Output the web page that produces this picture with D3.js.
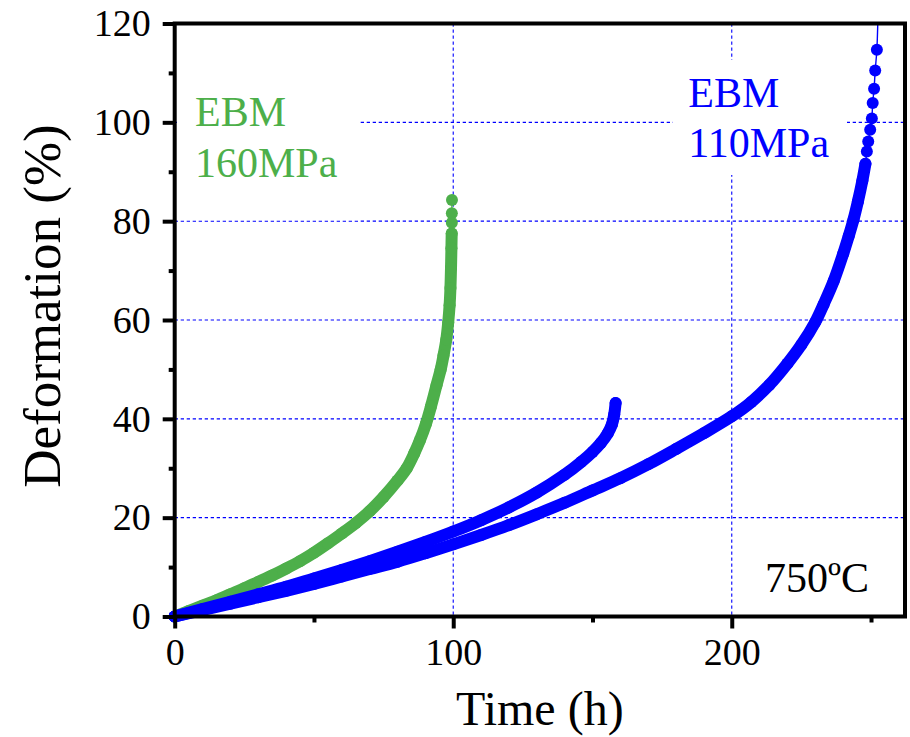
<!DOCTYPE html>
<html>
<head>
<meta charset="utf-8">
<script src="https://cdn.jsdelivr.net/npm/d3@7"></script>
<style>
  html, body { margin: 0; padding: 0; background: #fff; }
  svg { display: block; font-family: "Liberation Serif", "Times New Roman", serif; }
</style>
</head>
<body>
<svg id="chart" width="910" height="737"></svg>
<script>
// Creep curves of EBM material at 750 ºC: time (h) vs deformation (%)

// EBM 160 MPa – densely sampled part of the record
const ebm160Time = [0, 5, 10, 15, 20, 25, 30, 35, 40, 45, 50, 55, 60, 65, 70, 75, 80, 83.3,
  86, 88, 90.2, 92, 94, 95.5, 96.5, 97.5, 98.2, 98.7, 99.0, 99.2, 99.35, 99.45];
const ebm160Def = [0, 1.1, 2.2, 3.3, 4.5, 5.7, 7.0, 8.3, 9.7, 11.2, 12.9, 14.8, 16.8, 18.9, 21.3, 24.2, 27.5, 30.0,
  33.0, 35.6, 39.0, 42.5, 46.8, 50.0, 52.8, 56.0, 59.5, 63.0, 66.5, 70.5, 74.5, 77.5];
// last readings before rupture
const ebm160TailTime = [99.5, 99.5, 99.55];
const ebm160TailDef = [79.7, 81.6, 84.3];

// EBM 110 MPa – first specimen
const ebm110aTime = [0, 10, 20, 30, 40, 50, 60, 70, 80, 90, 100, 110, 120, 130, 140, 146, 150, 153,
  155.5, 157, 157.8, 158.3];
const ebm110aDef = [0, 1.5, 3.0, 4.5, 6.0, 7.7, 9.4, 11.2, 13.1, 15.1, 17.2, 19.5, 22.1, 25.1, 28.7, 31.3, 33.3, 35.1,
  37.1, 38.9, 40.9, 43.2];

// EBM 110 MPa – second specimen
const ebm110bTime = [0, 10, 20, 30, 40, 50, 60, 70, 80, 90, 100, 110, 120, 130, 140, 150, 160, 170, 180, 190,
  200, 207, 213.4, 220, 225, 230, 233, 236.6, 240, 242, 243.7, 245.3, 246.9, 248];
const ebm110bDef = [0, 1.3, 2.6, 3.9, 5.2, 6.6, 8.1, 9.6, 11.1, 12.8, 14.6, 16.5, 18.5, 20.7, 23.0, 25.5, 28.0, 30.8, 33.9, 37.1,
  40.5, 43.4, 46.8, 51.2, 55.0, 59.6, 63.2, 67.9, 73.4, 77.0, 80.3, 84.0, 88.2, 91.6];
const ebm110bTailTime = [248.5, 249.0, 249.7, 250.3, 250.6, 251.1, 251.5, 252.1, 252.7];
const ebm110bTailDef = [94.1, 96.1, 98.5, 100.8, 103.9, 106.8, 110.5, 114.7, 127];

// axes
const xTicks = [0, 100, 200];
const xMinorTicks = [50, 150, 250];
const yTicks = [0, 20, 40, 60, 80, 100, 120];
const yMinorTicks = [10, 30, 50, 70, 90, 110];
const xGrid = [100, 200];
const yGrid = [20, 40, 60, 80, 100];

const GREEN = "#4daf4a";
const BLUE = "#0000ff";

const svg = d3.select("#chart");
const W = 910, H = 737;
const margin = { top: 23.5, right: 5, bottom: 120.5, left: 174.7 };
const iw = W - margin.left - margin.right;
const ih = H - margin.top - margin.bottom;

const x = d3.scaleLinear().domain([0, 262.2]).range([0, iw]);
const y = d3.scaleLinear().domain([0, 120]).range([ih, 0]);

const g = svg.append("g").attr("transform", `translate(${margin.left},${margin.top})`);

// clip: lets markers at the origin show past the axes but cuts the line at the top frame
svg.append("defs").append("clipPath").attr("id", "plotClip")
  .append("rect").attr("x", -12).attr("y", 0).attr("width", iw + 12).attr("height", ih + 12);

// grid
const grid = g.append("g").attr("stroke", BLUE).attr("stroke-width", 1.1).attr("stroke-dasharray", "3.3,2.7");
grid.selectAll("line.gx").data(xGrid).join("line").attr("class", "gx")
  .attr("x1", d => x(d)).attr("x2", d => x(d)).attr("y1", 0).attr("y2", ih);
grid.selectAll("line.gy").data(yGrid).join("line").attr("class", "gy")
  .attr("y1", d => y(d)).attr("y2", d => y(d)).attr("x1", 0).attr("x2", iw);

// text labels with opaque boxes (they hide the grid behind them)
function label(lines, color, tx, ty, box, size, lineGap) {
  if (box) {
    g.append("rect").attr("x", box[0]).attr("y", box[1]).attr("width", box[2]).attr("height", box[3])
      .attr("fill", "#fff");
  }
  const t = g.append("text").attr("fill", color).attr("font-size", size);
  lines.forEach((s, i) => {
    t.append("tspan").attr("x", tx).attr("y", ty + i * lineGap).text(s);
  });
}

const zip = (a, b) => a.map((v, i) => [v, b[i]]);
const ebm160 = zip(ebm160Time, ebm160Def);
const ebm160Tail = zip(ebm160TailTime, ebm160TailDef);
const ebm110a = zip(ebm110aTime, ebm110aDef);
const ebm110b = zip(ebm110bTime, ebm110bDef);
const ebm110bTail = zip(ebm110bTailTime, ebm110bTailDef);

const line = d3.line().x(d => x(d[0])).y(d => y(d[1])).curve(d3.curveCatmullRom.alpha(0.5));
const plot = g.append("g").attr("clip-path", "url(#plotClip)");

const R = 6;
function series(dense, tail, color) {
  const s = plot.append("g");
  // thin connecting line through every reading
  s.append("path").datum(dense.concat(tail)).attr("d", line)
    .attr("fill", "none").attr("stroke", color).attr("stroke-width", 1.4);
  // densely sampled readings: overlapping markers form a solid band
  s.append("path").datum(dense).attr("d", line)
    .attr("fill", "none").attr("stroke", color).attr("stroke-width", 2 * R)
    .attr("stroke-linecap", "round").attr("stroke-linejoin", "round");
  s.selectAll("circle").data(dense.concat(tail).filter(d => d[1] <= 120)).join("circle")
    .attr("cx", d => x(d[0])).attr("cy", d => y(d[1])).attr("r", R).attr("fill", color);
}

label(["EBM", "160MPa"], GREEN, 20.3, 102.5, [2.3, 57, 181, 140], 42, 50.7);
label(["EBM", "110MPa"], BLUE, 513.6, 83.2, [498.3, 36.5, 174, 115], 42, 50);

series(ebm160, ebm160Tail, GREEN);
series(ebm110a, [], BLUE);
series(ebm110b, ebm110bTail, BLUE);

label(["750ºC"], "#000", 590.3, 568.2, null, 42, 0);

// frame
g.append("rect").attr("x", 0).attr("y", 0).attr("width", iw).attr("height", ih)
  .attr("fill", "none").attr("stroke", "#000").attr("stroke-width", 4);

// axes
const xAxis = g.append("g").attr("transform", `translate(0,${ih})`)
  .call(d3.axisBottom(x).tickValues(xTicks).tickSize(12).tickPadding(10).tickFormat(d3.format("d")));
const yAxis = g.append("g")
  .call(d3.axisLeft(y).tickValues(yTicks).tickSize(12).tickPadding(12).tickFormat(d3.format("d")));
[xAxis, yAxis].forEach(a => {
  a.select(".domain").remove();
  a.selectAll(".tick line").attr("stroke", "#000").attr("stroke-width", 4);
  a.selectAll(".tick text").attr("fill", "#000").attr("font-size", 38)
    .attr("font-family", "Liberation Serif, Times New Roman, serif");
});
xAxis.selectAll(".tick text").attr("dy", "0.71em");

g.append("g").attr("transform", `translate(0,${ih})`)
  .call(d3.axisBottom(x).tickValues(xMinorTicks).tickSize(6).tickFormat(""))
  .call(a => a.select(".domain").remove())
  .selectAll(".tick line").attr("stroke", "#000").attr("stroke-width", 4);
g.append("g")
  .call(d3.axisLeft(y).tickValues(yMinorTicks).tickSize(6).tickFormat(""))
  .call(a => a.select(".domain").remove())
  .selectAll(".tick line").attr("stroke", "#000").attr("stroke-width", 4);

// axis titles
svg.append("text").attr("x", margin.left + iw / 2).attr("y", 725)
  .attr("text-anchor", "middle").attr("font-size", 48).attr("fill", "#000").text("Time (h)");
svg.append("text").attr("transform", "translate(60,306) rotate(-90)")
  .attr("text-anchor", "middle").attr("font-size", 53).attr("fill", "#000").text("Deformation (%)");
</script>
</body>
</html>
